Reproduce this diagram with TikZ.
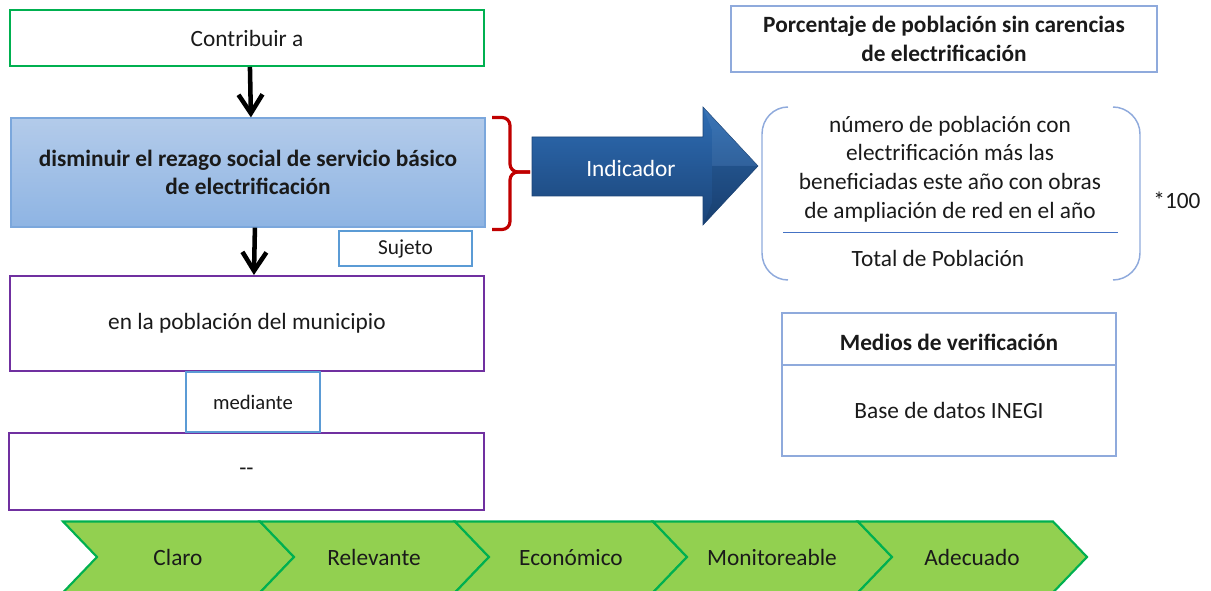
\documentclass[tikz,border=0pt]{standalone}
\usepackage{fontspec}
\setmainfont{Carlito}
\usetikzlibrary{arrows.meta,calc}
\definecolor{cgreen}{HTML}{00B050}
\definecolor{cpurple}{HTML}{7030A0}
\definecolor{cblue}{HTML}{5B9BD5}
\definecolor{clblue}{HTML}{8FAADC}
\definecolor{cfrac}{HTML}{4472C4}
\definecolor{cred}{HTML}{C00000}
\definecolor{cchev}{HTML}{92D050}
\definecolor{dtop}{HTML}{B3CBEA}
\definecolor{dbot}{HTML}{8EB4E3}
\definecolor{dbord}{HTML}{7BA7DC}
\definecolor{itop}{HTML}{2E6DB4}
\definecolor{ibot}{HTML}{1B4478}
\definecolor{txt}{HTML}{1A1A1A}
\begin{document}
\begin{tikzpicture}[x=0.75pt,y=-0.75pt,
  every node/.append style={font=\fontsize{17.5}{21.5}\selectfont, text=txt, align=center},
  box/.style={draw, fill=white, inner sep=0pt},
  gbox/.style={box, draw=cgreen, line width=1.5pt},
  pbox/.style={box, draw=cpurple, line width=1.5pt},
  bbox/.style={box, draw=cblue, line width=1.2pt},
  lbbox/.style={box, draw=clblue, line width=1.1pt},
  arr/.style={line width=3.4pt, -{Straight Barb[length=14pt,width=18pt]}},
  chev/.style={fill=cchev, draw=cgreen, line width=1.6pt, line join=miter},
  chevtext/.style={text height=14pt, text depth=1pt},
]
\useasboundingbox (0,0) rectangle (1211,591);

% left column
\node[gbox, minimum width={474*0.75pt}, minimum height={56*0.75pt}] (contrib) at (247,38) {Contribuir a};
\node[box, draw=dbord, line width=0.9pt, top color=dtop, bottom color=dbot,
      minimum width={474*0.75pt}, minimum height={109*0.75pt}, font=\fontsize{17.5}{21.5}\selectfont\bfseries] (dism) at (248,172.5)
  {disminuir el rezago social de servicio básico\\de electrificación};
\node[bbox, minimum width={133*0.75pt}, minimum height={35*0.75pt}, font=\fontsize{16}{19}\selectfont] (sujeto) at (405.5,248.5) {Sujeto};
\node[pbox, minimum width={474*0.75pt}, minimum height={95*0.75pt}] (pob) at (247,323.5) {en la población del municipio};
\node[pbox, minimum width={475*0.75pt}, minimum height={77*0.75pt}] (dash) at (246.5,471.5) {{-}{-}};
\node[bbox, minimum width={134*0.75pt}, minimum height={60*0.75pt}, font=\fontsize{15.5}{19}\selectfont] (med) at (253,402) {mediante};

\draw[arr] ([xshift=2.2pt]contrib.south) -- ([xshift=2.2pt]dism.north);
\draw[arr] ([xshift=5.2pt]dism.south) -- ([xshift=5.2pt]pob.north);

% brace
\draw[cred, line width=2.4pt, rounded corners=6pt]
  (492,117.5) -- (510,117.5) -- (510,172) -- (530,172);
\draw[cred, line width=2.4pt, rounded corners=6pt]
  (530,172) -- (510,172) -- (510,229.5) -- (492,229.5);

% indicador arrow
\shade[top color=itop, bottom color=ibot, draw=ibot, line width=0.4pt]
  (532,137) -- (703,137) -- (703,107) -- (758,166) -- (703,225) -- (703,196) -- (532,196) -- cycle;
\fill[white, opacity=0.06] (703,107) -- (758,166) -- (712,166) -- (712,130) -- cycle;
\fill[black, opacity=0.08] (703,225) -- (758,166) -- (712,166) -- (712,203) -- cycle;
\node[text=white] (ind) at (631,168) {Indicador};

% title
\node[lbbox, minimum width={426*0.75pt}, minimum height={66*0.75pt}, font=\fontsize{17.5}{21.5}\selectfont\bfseries] (title) at (944,39)
  {Porcentaje de población sin carencias\\de electrificación};

% formula
\draw[clblue, line width=1.1pt]
  (788,107) .. controls (773.6,107) and (762,119) .. (762,134) -- (762,253)
  .. controls (762,268) and (773.6,280) .. (788,280);
\draw[clblue, line width=1.1pt]
  (1113,107) .. controls (1127.4,107) and (1140,119) .. (1140,134) -- (1140,253)
  .. controls (1140,268) and (1127.4,280) .. (1113,280);
\node (num) at (950,169) {número de población con\\electrificación más las\\beneficiadas este año con obras\\de ampliación de red en el año};
\coordinate (fl) at (783,232.5);
\coordinate (fr) at (1118,232.5);
\draw[cfrac, line width=0.9pt] (fl) -- (fr);
\node (den) at (938,258) {Total de Población};
\node (cien) at (1177,200) {*100};

% medios
\node[lbbox, minimum width={334*0.75pt}, minimum height={52*0.75pt}, font=\fontsize{17.5}{21.5}\selectfont\bfseries, text height=18pt, text depth=0pt] (medh) at (949,339) {Medios de verificación};
\node[lbbox, minimum width={334*0.75pt}, minimum height={91*0.75pt}] (medb) at (949,410.5) {Base de datos INEGI};

% chevrons
\foreach \a/\b in {63/260, 260/455, 455/653, 653/858, 858/1053} {
  \draw[chev] (\a,521.5) -- (\b,521.5) -- (\b+34,557) -- (\b,592.5) -- (\a,592.5) -- (\a+34,557) -- cycle;
}
\node[chevtext] (c1) at (178,557) {Claro};
\node[chevtext] (c2) at (374,557) {Relevante};
\node[chevtext] (c3) at (571,557) {Económico};
\node[chevtext] (c4) at (772,557) {Monitoreable};
\node[chevtext] (c5) at (972,557) {Adecuado};
\end{tikzpicture}
\end{document}
